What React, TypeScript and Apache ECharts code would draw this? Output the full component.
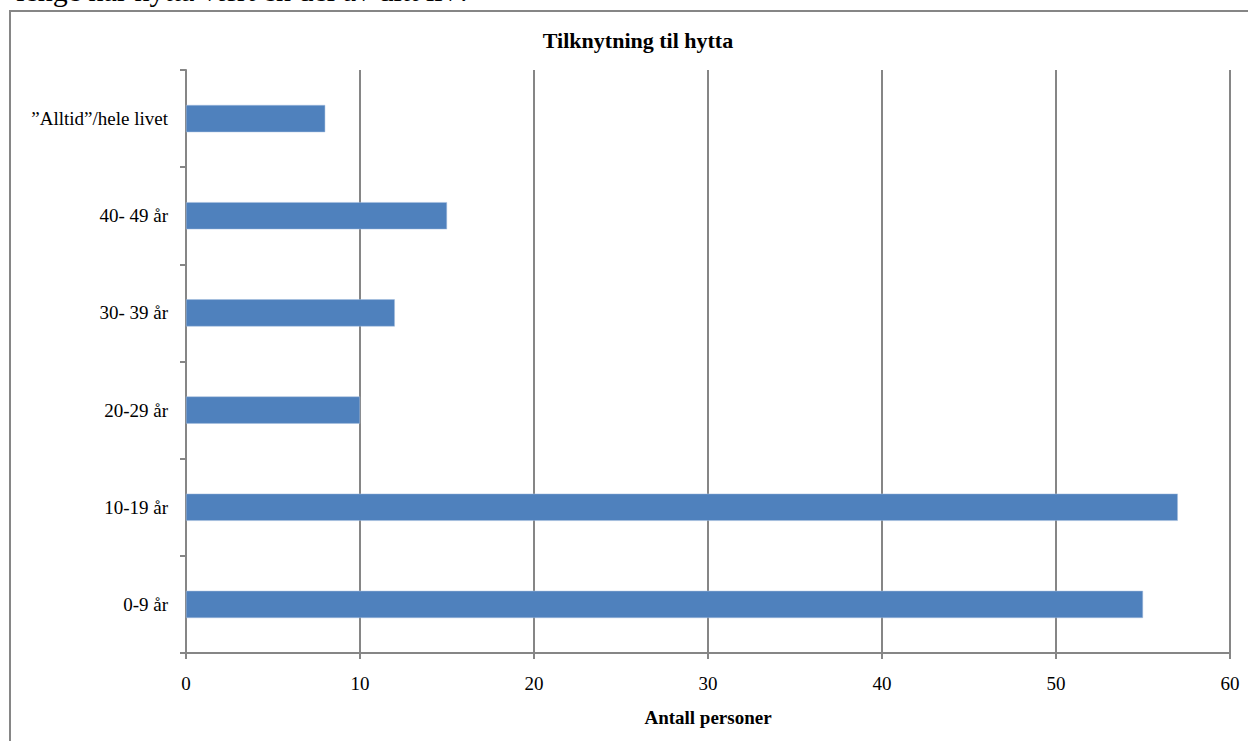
import React, { useEffect, useRef } from "react";
import * as echarts from "echarts";

const categories = ["0-9 år", "10-19 år", "20-29 år", "30- 39 år", "40- 49 år", "”Alltid”/hele livet"];
const values = [55, 57, 10, 12, 15, 8];
const xTicks = [0, 10, 20, 30, 40, 50, 60];
const chartTitle = "Tilknytning til hytta";
const xName = "Antall personer";
const headerText = "lenge har hytta vært en del av ditt liv?";

const SERIF = "'Liberation Serif', 'DejaVu Serif', serif";
const GREY = "#868686";

export default function App() {
  const ref = useRef<HTMLDivElement>(null);
  useEffect(() => {
    if (!ref.current) return;
    const chart = echarts.init(ref.current, undefined, { renderer: "svg" });
    chart.setOption({
      animation: false,
      backgroundColor: "#ffffff",
      title: {
        text: chartTitle,
        left: 633,
        top: 24,
        textAlign: "center",
        textStyle: { fontFamily: SERIF, fontSize: 22, fontWeight: "bold", color: "#000" },
      },
      graphic: [
        {
          type: "rect",
          shape: { x: 10, y: 11, width: 1400, height: 900 },
          style: { fill: "none", stroke: GREY, lineWidth: 2 },
          silent: true,
        },
        {
          type: "text",
          x: 471,
          y: 5,
          style: {
            text: headerText,
            font: `30px ${SERIF}`,
            fill: "#000",
            align: "right",
            verticalAlign: "bottom",
          },
          silent: true,
        },
      ],
      grid: { left: 186, right: 18, top: 70, bottom: 88, containLabel: false },
      xAxis: {
        type: "value",
        min: xTicks[0],
        max: xTicks[xTicks.length - 1],
        interval: 10,
        name: xName,
        nameLocation: "middle",
        nameGap: 55,
        nameTextStyle: { fontFamily: SERIF, fontSize: 19, fontWeight: "bold", color: "#000" },
        axisLine: { show: true, lineStyle: { color: GREY, width: 2 } },
        axisTick: { show: true, length: 6, lineStyle: { color: GREY, width: 2 } },
        axisLabel: { fontFamily: SERIF, fontSize: 19, color: "#000", margin: 21 },
        splitLine: { show: true, lineStyle: { color: GREY, width: 2 } },
      },
      yAxis: {
        type: "category",
        data: categories,
        axisLine: { show: true, lineStyle: { color: GREY, width: 2 } },
        axisTick: { show: true, length: 6, lineStyle: { color: GREY, width: 2 } },
        axisLabel: { fontFamily: SERIF, fontSize: 19, color: "#000", margin: 18 },
        splitLine: { show: false },
      },
      series: [
        {
          type: "bar",
          data: values,
          barWidth: "28%",
          itemStyle: { color: "#4F81BD", borderColor: "#A7BFDE", borderWidth: 0.5 },
        },
      ],
    });
    return () => chart.dispose();
  }, []);
  return (
    <div
      ref={ref}
      style={{ position: "fixed", left: 0, top: 0, width: 1248, height: 741, background: "#fff" }}
    />
  );
}
